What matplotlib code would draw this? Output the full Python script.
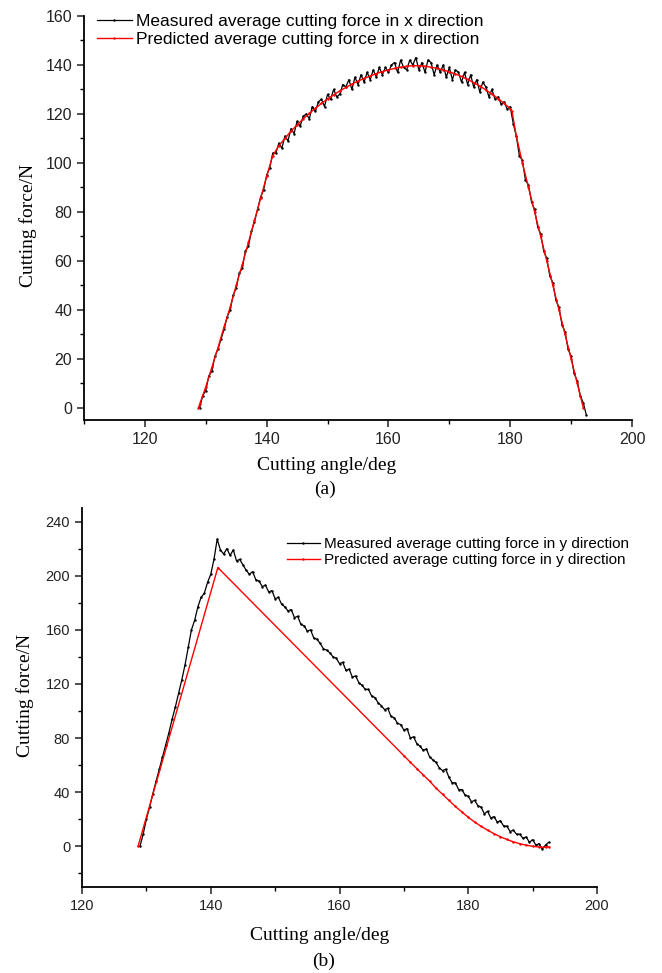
import numpy as np
import matplotlib.pyplot as plt

# ---- data (a): cutting force in x direction ----
ang_meas_a = np.arange(129.0, 192.51, 0.5)
force_meas_a = [
    0, 5, 7, 13, 15, 21, 24, 28,
    32, 37, 40, 46, 49, 55, 57, 64,
    66, 72, 76, 81, 86, 89, 95, 98,
    104, 104, 108, 106, 111, 109, 114, 112,
    117, 115, 119, 120, 118, 123, 121, 125,
    126, 123, 128, 126, 130, 127, 128, 132,
    131, 134, 130, 135, 132, 136, 133, 137,
    134, 138, 135, 139, 136, 139, 137, 140,
    141, 137, 142, 139, 138, 142, 140, 143,
    138, 141, 137, 142, 141, 136, 140, 137,
    140, 135, 139, 134, 138, 137, 133, 137,
    132, 136, 131, 134, 129, 133, 131, 127,
    130, 126, 127, 124, 125, 122, 123, 116,
    111, 103, 101, 93, 91, 84, 81, 74,
    71, 64, 61, 54, 51, 44, 41, 34,
    31, 24, 21, 14, 11, 5, 2, -3,
]

ang_pred_a = [128.8, 129, 130, 131, 132, 133, 134, 135, 136, 137, 138, 139, 140, 141,
              142, 143, 144, 145, 146, 147, 148, 149, 150, 151, 152, 153, 154, 155,
              156, 157, 158, 159, 160, 161, 162, 163, 164, 165, 166, 167, 168, 169,
              170, 171, 172, 173, 174, 175, 176, 177, 178, 179, 180, 180.3, 181, 182,
              183, 184, 185, 186, 187, 188, 189, 190, 191, 192]
force_pred_a = [0, 1.5, 8.5, 16.5, 24.5, 33, 41, 50, 58.5, 67.5, 76.5, 85.5, 94.5, 103,
                107, 110, 113, 115.5, 118, 120.2, 122.3, 124.3, 126.1, 127.8, 129.4, 130.8,
                132.2, 133.4, 134.5, 135.5, 136.5, 137.3, 138, 138.6, 139.1, 139.5, 139.7,
                139.7, 139.5, 139.1, 138.6, 138, 137.2, 136.3, 135.3, 134.1, 132.8, 131.4,
                129.8, 128.1, 126.3, 124.3, 122.2, 121, 111, 100, 90, 80, 70, 60, 50, 40,
                30, 20, 10, 0]

# ---- data (b): cutting force in y direction ----
ang_meas_b = np.arange(129.0, 192.51, 0.5)
force_meas_b = [
    0, 9, 20, 29, 39, 48, 57, 66,
    75, 84, 94, 103, 113, 123, 134, 147,
    160, 167, 177, 184, 187, 195, 201, 212,
    227, 219, 216, 220, 215, 219, 211, 212,
    208, 204, 201, 203, 197, 196, 192, 193,
    188, 189, 183, 184, 179, 177, 174, 175,
    169, 170, 164, 163, 159, 160, 154, 153,
    150, 146, 145, 143, 140, 139, 135, 136,
    130, 131, 125, 126, 121, 119, 116, 116,
    111, 110, 106, 104, 101, 102, 96, 95,
    91, 90, 86, 87, 80, 81, 76, 74,
    71, 72, 66, 64, 62, 58, 56, 57,
    51, 47, 47, 42, 42, 38, 37, 33,
    34, 30, 29, 24, 26, 21, 22, 18,
    19, 15, 15, 11, 12, 9, 9, 6,
    7, 3, 5, 1, 2, -2, 1, 3,
]

ang_pred_b = [128.7, 141.1, 170, 171, 172, 173, 174, 175, 176, 177, 178, 179, 180,
              181, 182, 183, 184, 185, 186, 187, 188, 189, 190, 191, 192, 192.5]
force_pred_b = [0, 206, 67, 62.2, 57.5, 52.8, 48.2, 43, 38.5, 34, 29.5, 25.5, 21.5,
                18, 14.8, 12, 9.4, 7.1, 5.1, 3.4, 2, 0.9, 0.1, -0.5, -0.6, -0.3]

W, H = 662, 973
fig = plt.figure(figsize=(W / 100, H / 100), dpi=100)

sans = 'Liberation Sans'
serif = 'Liberation Serif'


def px_axes(left, top, right, bottom):
    return fig.add_axes([left / W, 1 - bottom / H, (right - left) / W, (bottom - top) / H])


def style(ax, xmaj, ymaj, fs):
    for s in ['top', 'right']:
        ax.spines[s].set_visible(False)
    for s in ['left', 'bottom']:
        ax.spines[s].set_linewidth(1.3)
    ax.xaxis.set_major_locator(plt.MultipleLocator(xmaj))
    ax.xaxis.set_minor_locator(plt.MultipleLocator(xmaj / 2))
    ax.yaxis.set_major_locator(plt.MultipleLocator(ymaj))
    ax.yaxis.set_minor_locator(plt.MultipleLocator(ymaj / 2))
    ax.tick_params(which='major', direction='out', length=5, width=1.1, labelsize=fs,
                   colors='#222222')
    ax.tick_params(which='minor', direction='out', length=3, width=1.0)
    for lab in ax.get_xticklabels() + ax.get_yticklabels():
        lab.set_fontfamily(sans)


# panel (a)
ax1 = px_axes(84, 16, 632, 420)
ax1.plot(ang_meas_a, force_meas_a, color='black', lw=0.9, marker='.', ms=1.5,
         label='Measured average cutting force in x direction')
ax1.plot(ang_pred_a, force_pred_a, color='red', lw=1.0, marker='.', ms=1.5,
         label='Predicted average cutting force in x direction')
ax1.set_xlim(110, 200)
ax1.set_ylim(-5, 160)
style(ax1, 20, 20, 11.5)
ax1.legend(loc='upper left', bbox_to_anchor=(97 / W, 1 - 14 / H), bbox_transform=fig.transFigure,
           frameon=False, numpoints=1, handlelength=2.0, handletextpad=0.25,
           borderpad=0, borderaxespad=0, labelspacing=0.15,
           prop={'family': sans, 'size': 12.5})

fig.text(327 / W, 1 - 465 / H, 'Cutting angle/deg', family=serif, size=14, ha='center', va='center')
fig.text(325 / W, 1 - 489 / H, '(a)', family=serif, size=14, ha='center', va='center')
fig.text(28 / W, 1 - 225 / H, 'Cutting force/N', family=serif, size=14, ha='center', va='center',
         rotation=90)

# panel (b)
ax2 = px_axes(82, 508, 597, 887)
ax2.plot(ang_meas_b, force_meas_b, color='black', lw=0.9, marker='.', ms=1.5,
         label='Measured average cutting force in y direction')
ax2.plot(ang_pred_b, force_pred_b, color='red', lw=1.0, marker='.', ms=1.5,
         label='Predicted average cutting force in y direction')
ax2.set_xlim(120, 200)
ax2.set_ylim(-30, 250)
style(ax2, 20, 40, 10.5)
ax2.legend(loc='upper left', bbox_to_anchor=(287 / W, 1 - 537 / H), bbox_transform=fig.transFigure,
           frameon=False, numpoints=1, handlelength=2.15, handletextpad=0.3,
           borderpad=0, borderaxespad=0, labelspacing=0.15,
           prop={'family': sans, 'size': 11})

fig.text(320 / W, 1 - 936 / H, 'Cutting angle/deg', family=serif, size=14, ha='center', va='center')
fig.text(324 / W, 1 - 961 / H, '(b)', family=serif, size=14, ha='center', va='center')
fig.text(25 / W, 1 - 695 / H, 'Cutting force/N', family=serif, size=14, ha='center', va='center',
         rotation=90)

fig.savefig('out.png', dpi=100)
